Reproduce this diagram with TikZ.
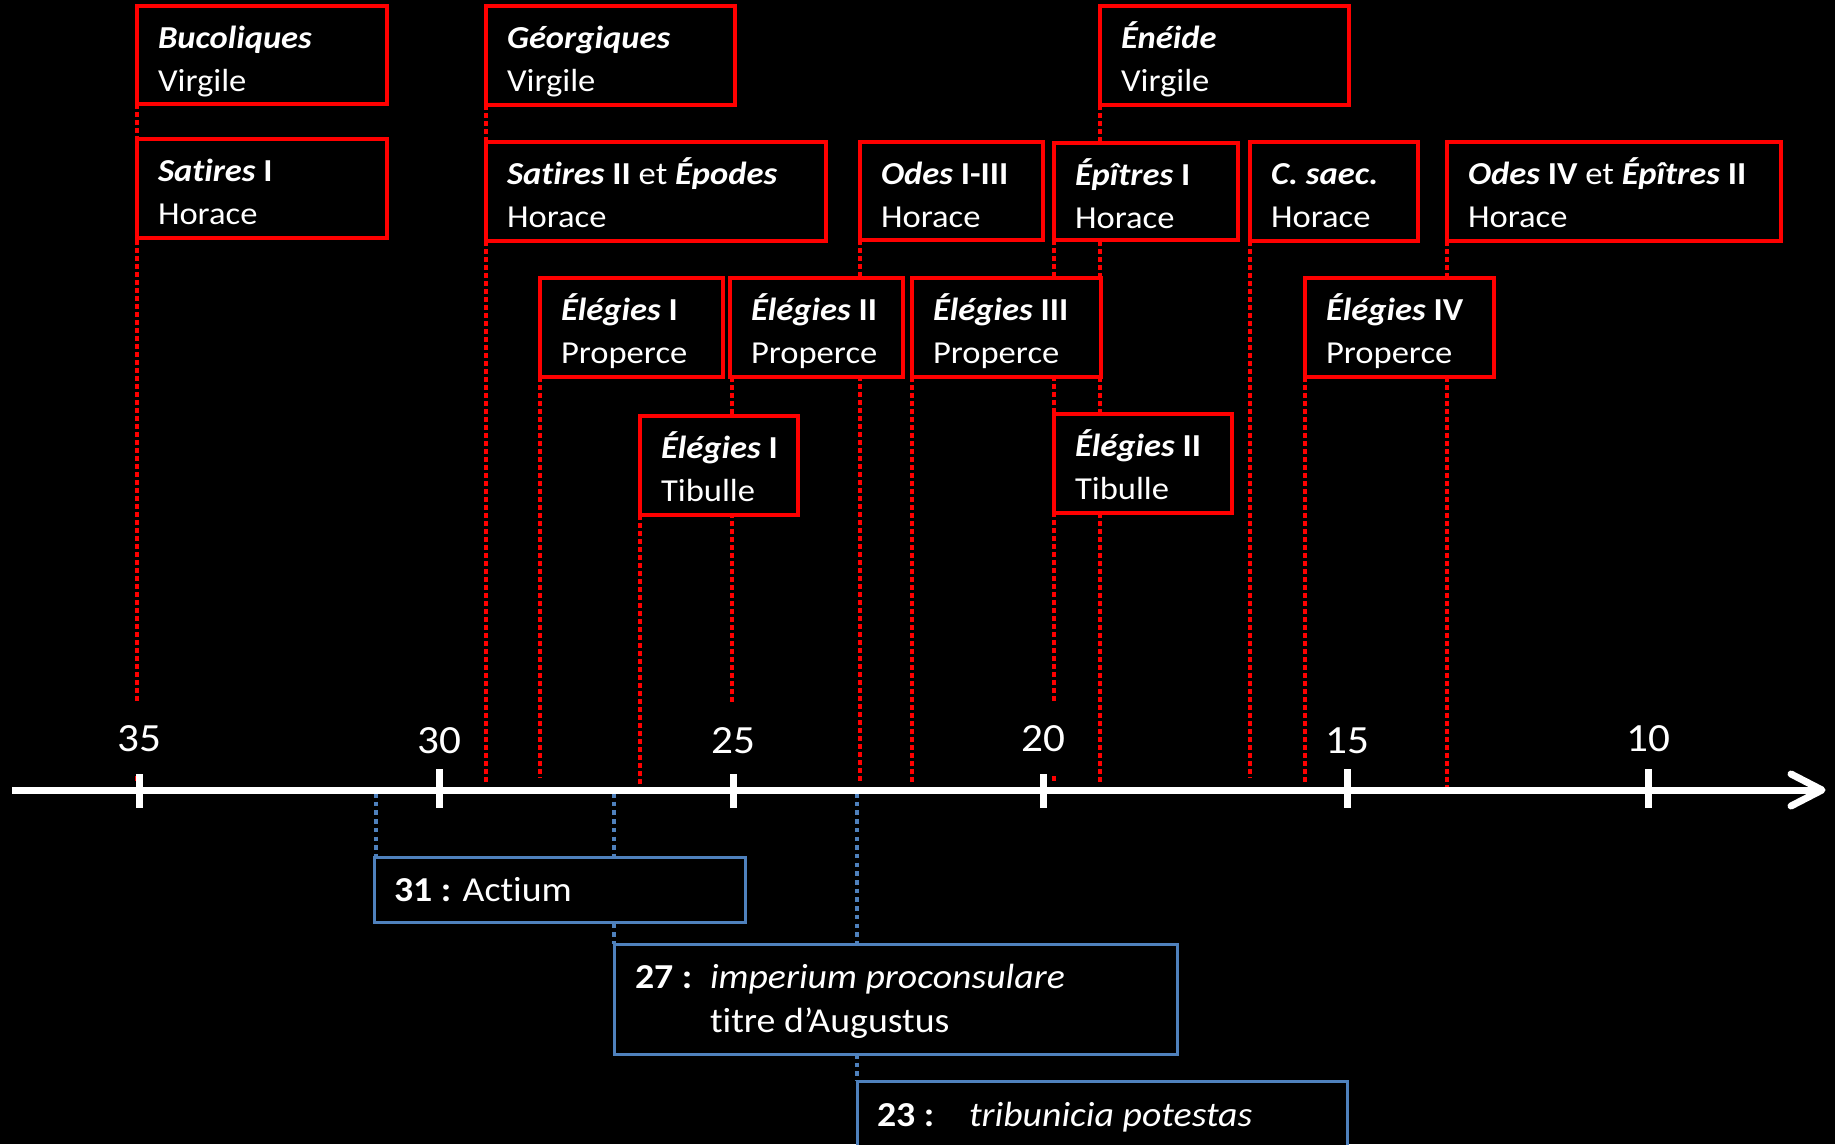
\documentclass[tikz,border=0pt]{standalone}
\usepackage{fontspec}
\setmainfont{Carlito}[FakeStretch=1.08, Ligatures=NoCommon]
\usetikzlibrary{calc}
\definecolor{rred}{RGB}{255,0,0}
\definecolor{bblue}{RGB}{79,129,189}
\pgfdeclarelayer{back}
\pgfdeclarelayer{lines}
\pgfsetlayers{back,lines,main}
\newcommand\bfit[1]{\textbf{\textit{#1}}}
\tikzset{
  rboxs/.style={draw=rred, line width=3.5pt, fill=black, inner sep=0pt, outer sep=0pt},
  bboxs/.style={draw=bblue, line width=3pt, fill=black, inner sep=0pt, outer sep=0pt},
  txt/.style={text=white, inner sep=0pt, outer sep=0pt, font=\fontsize{32pt}{42pt}\selectfont},
  btxt/.style={text=white, inner sep=0pt, outer sep=0pt, font=\fontsize{35pt}{44pt}\selectfont},
  rdot/.style={draw=rred, line width=4pt, dash pattern=on 4.5pt off 3.5pt},
  bdot/.style={draw=bblue, line width=4pt, dash pattern=on 4.5pt off 4.2pt},
  axisl/.style={draw=white, line width=7pt},
  numl/.style={text=white, fill=black, font=\fontsize{40pt}{48pt}\selectfont, minimum height=74pt, inner xsep=2pt, inner ysep=0pt},
}
\newcommand\redbox[7]{%
  \node[rboxs, anchor=north west, minimum width={(#4-#2)*1pt}, minimum height={(#5-#3)*1pt}] (#1) at (#2,#3) {};
  \node[txt, anchor=base west] (#1-t) at ($(#1.north west)+(21,42)$) {#6};
  \node[txt, anchor=base west] (#1-a) at ($(#1.north west)+(21,85)$) {#7};
}
\begin{document}
\begin{tikzpicture}[x=1pt,y=-1pt]
\begin{pgfonlayer}{back}
  \fill[black] (0,0) rectangle (1835,1144);
\end{pgfonlayer}
\useasboundingbox (0,0) rectangle (1835,1144);

% red boxes
\redbox{buc}{137}{6}{387}{104}{\bfit{Bucoliques}}{Virgile}
\redbox{geo}{486}{6}{735}{105}{\bfit{Géorgiques}}{Virgile}
\redbox{ene}{1100}{6}{1349}{105}{\bfit{Énéide}}{Virgile}
\redbox{sat}{137}{139}{387}{238}{\bfit{Satires} \textbf{I}}{Horace}
\redbox{sat2}{486}{142}{826}{241}{\bfit{Satires} \textbf{II} et \bfit{Épodes}}{Horace}
\redbox{ode}{860}{142}{1043}{240}{\bfit{Odes} \textbf{I-III}}{Horace}
\redbox{epi}{1054}{143}{1238}{240}{\bfit{Épîtres} \textbf{I}}{Horace}
\redbox{csa}{1250}{142}{1418}{241}{\bfit{C. saec.}}{Horace}
\redbox{ode4}{1447}{142}{1781}{241}{\bfit{Odes} \textbf{IV} et \bfit{Épîtres} \textbf{II}}{Horace}
\redbox{elp1}{540}{278}{723}{377}{\bfit{Élégies} \textbf{I}}{Properce}
\redbox{elp2}{730}{278}{903}{377}{\bfit{Élégies} \textbf{II}}{Properce}
\redbox{elp3}{912}{278}{1101}{377}{\bfit{Élégies} \textbf{III}}{Properce}
\redbox{elp4}{1305}{278}{1494}{377}{\bfit{Élégies} \textbf{IV}}{Properce}
\redbox{elt1}{640}{416}{798}{515}{\bfit{Élégies} \textbf{I}}{Tibulle}
\redbox{elt2}{1054}{414}{1232}{513}{\bfit{Élégies} \textbf{II}}{Tibulle}

% blue boxes
\node[bboxs, anchor=north west, minimum width=371pt, minimum height=65pt] (act) at (374,857) {};
\node[btxt, anchor=base west] (act-t) at ($(act.north west)+(20,44)$) {\textbf{31 :} Actium};
\node[bboxs, anchor=north west, minimum width=563pt, minimum height=110pt] (b27) at (614,944) {};
\node[btxt, anchor=base west] (b27-n) at ($(b27.north west)+(21,44)$) {\textbf{27 :}};
\node[btxt, anchor=base west] (b27-a) at ($(b27.north west)+(96,44)$) {\textit{imperium proconsulare}};
\node[btxt, anchor=base west] (b27-b) at ($(b27.north west)+(96,88)$) {titre d’Augustus};
\node[bboxs, anchor=north west, minimum width=490pt, minimum height=72pt] (b23) at (857,1081) {};
\node[btxt, anchor=base west] (b23-n) at ($(b23.north west)+(20,45)$) {\textbf{23 :}};
\node[btxt, anchor=base west] (b23-a) at ($(b23.north west)+(112,45)$) {\textit{tribunicia potestas}};

% end coordinates
\coordinate (ya) at (0,784);
\coordinate (yb) at (0,778);
\coordinate (yc) at (0,788);
\coordinate (yd) at (0,793);

\begin{pgfonlayer}{lines}
  \draw[rdot] (buc.south west) -- (buc.south west |- ya);
  \draw[rdot] (geo.south west) -- (geo.south west |- ya);
  \draw[rdot] (elp1.south west) -- (elp1.south west |- yb);
  \draw[rdot] (elt1.south west) -- (elt1.south west |- ya);
  \draw[rdot] ([xshift=2pt]elp2.south west) -- ([xshift=2pt]elp2.south west |- ya);
  \draw[rdot] (ode.south west) -- (ode.south west |- ya);
  \draw[rdot] (elp3.south west) -- (elp3.south west |- ya);
  \draw[rdot] (epi.south west) -- (epi.south west |- ya);
  \draw[rdot] (ene.south west) -- (ene.south west |- ya);
  \draw[rdot] (csa.south west) -- (csa.south west |- yb);
  \draw[rdot] (elp4.south west) -- (elp4.south west |- ya);
  \draw[rdot] (ode4.south west) -- (ode4.south west |- yc);
  \draw[bdot] ([xshift=2pt]act.north west |- yd) -- ([xshift=2pt]act.north west);
  \draw[bdot] (b27.north west |- yd) -- (b27.north west);
  \draw[bdot] (b23.north west |- yd) -- (b23.north west);
\end{pgfonlayer}

% axis
\coordinate (ax0) at (12,790);
\coordinate (ax1) at (1818,790);
\coordinate (tip) at (1822,790);
\draw[axisl] (ax0) -- (ax1);
\draw[axisl, line cap=round, line join=round] (1791,774) -- (tip) -- (1791,806);

% labels
\node[numl] (n35) at (139,739) {35};
\node[numl] (n30) at (439,741) {30};
\node[numl] (n25) at (733,741) {25};
\node[numl] (n20) at (1043,739) {20};
\node[numl] (n15) at (1347,741) {15};
\node[numl] (n10) at (1648,739) {10};

% ticks
\draw[axisl] (139,774) -- (139,808);
\draw[axisl] (439,769) -- (439,808);
\draw[axisl] (733,774) -- (733,808);
\draw[axisl] (1043,774) -- (1043,808);
\draw[axisl] (1347,769) -- (1347,808);
\draw[axisl] (1648,769) -- (1648,808);
\end{tikzpicture}
\end{document}
